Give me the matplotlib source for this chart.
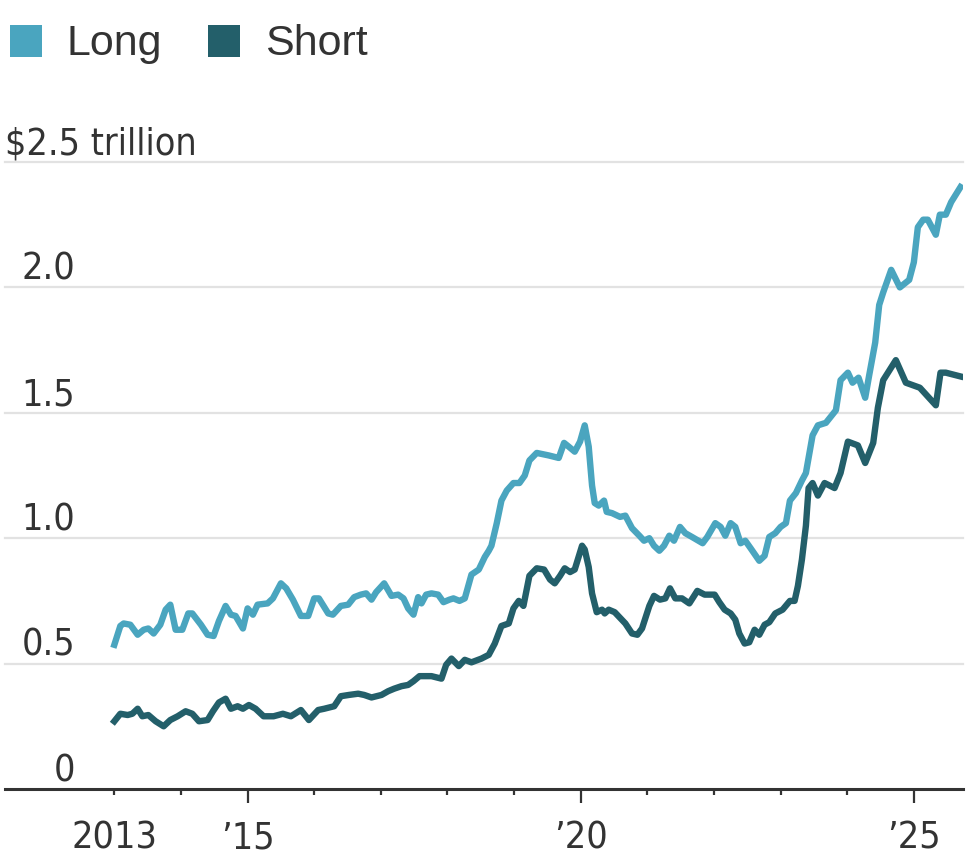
import matplotlib
matplotlib.use("Agg")
import matplotlib.pyplot as plt
from matplotlib.patches import Rectangle

# values (decimal year, $ trillion)
long_dates = [2013.00, 2013.09, 2013.14, 2013.24, 2013.35, 2013.44, 2013.51, 2013.59, 2013.69, 2013.77,
              2013.84, 2013.92, 2014.02, 2014.11, 2014.17, 2014.30, 2014.40, 2014.49, 2014.57, 2014.67,
              2014.75, 2014.82, 2014.93, 2015.00, 2015.08, 2015.15, 2015.30, 2015.38, 2015.50, 2015.58,
              2015.68, 2015.80, 2015.91, 2016.00, 2016.07, 2016.21, 2016.28, 2016.40, 2016.51, 2016.60,
              2016.70, 2016.78, 2016.86, 2016.93, 2017.05, 2017.16, 2017.26, 2017.34, 2017.41, 2017.49,
              2017.56, 2017.61, 2017.68, 2017.76, 2017.86, 2017.94, 2018.03, 2018.09, 2018.18, 2018.26,
              2018.36, 2018.47, 2018.56, 2018.62, 2018.66, 2018.74, 2018.81, 2018.89, 2018.99, 2019.08,
              2019.16, 2019.23, 2019.34, 2019.52, 2019.67, 2019.75, 2019.82, 2019.91, 2019.99, 2020.06,
              2020.12, 2020.17, 2020.21, 2020.27, 2020.35, 2020.39, 2020.47, 2020.59, 2020.67, 2020.77,
              2020.88, 2020.95, 2021.03, 2021.10, 2021.18, 2021.25, 2021.33, 2021.40, 2021.49, 2021.57,
              2021.67, 2021.83, 2021.90, 2022.02, 2022.10, 2022.17, 2022.25, 2022.32, 2022.40, 2022.47,
              2022.55, 2022.68, 2022.76, 2022.83, 2022.92, 2023.00, 2023.08, 2023.14, 2023.23, 2023.32,
              2023.38, 2023.48, 2023.56, 2023.68, 2023.83, 2023.90, 2024.01, 2024.08, 2024.17, 2024.27,
              2024.33, 2024.42, 2024.48, 2024.54, 2024.66, 2024.79, 2024.93, 2025.00, 2025.06, 2025.14,
              2025.21, 2025.33, 2025.39, 2025.48, 2025.56, 2025.70]
long_vals = [0.575, 0.65, 0.66, 0.655, 0.615, 0.635, 0.64, 0.62, 0.655, 0.715,
             0.735, 0.635, 0.635, 0.70, 0.70, 0.655, 0.615, 0.61, 0.67, 0.73,
             0.695, 0.69, 0.64, 0.72, 0.695, 0.735, 0.74, 0.76, 0.82, 0.80,
             0.755, 0.69, 0.69, 0.76, 0.76, 0.70, 0.695, 0.73, 0.735, 0.765,
             0.775, 0.78, 0.755, 0.785, 0.82, 0.77, 0.775, 0.76, 0.72, 0.695,
             0.765, 0.74, 0.775, 0.78, 0.775, 0.745, 0.755, 0.76, 0.75, 0.76,
             0.855, 0.875, 0.925, 0.95, 0.97, 1.06, 1.15, 1.19, 1.22, 1.22,
             1.25, 1.31, 1.34, 1.33, 1.32, 1.38, 1.365, 1.345, 1.385, 1.45,
             1.365, 1.21, 1.14, 1.13, 1.15, 1.105, 1.10, 1.085, 1.09, 1.04,
             1.01, 0.99, 1.00, 0.97, 0.95, 0.97, 1.01, 0.99, 1.045, 1.02,
             1.005, 0.98, 1.005, 1.06, 1.045, 1.01, 1.06, 1.045, 0.98, 0.99,
             0.96, 0.91, 0.93, 1.005, 1.02, 1.045, 1.06, 1.15, 1.18, 1.23,
             1.26, 1.41, 1.45, 1.46, 1.51, 1.63, 1.66, 1.62, 1.64, 1.56,
             1.65, 1.78, 1.93, 1.98, 2.07, 2.00, 2.03, 2.10, 2.24, 2.27,
             2.27, 2.21, 2.29, 2.29, 2.34, 2.40]

short_dates = [2013.00, 2013.09, 2013.20, 2013.27, 2013.35, 2013.42, 2013.51, 2013.62, 2013.74, 2013.84,
               2013.95, 2014.07, 2014.17, 2014.27, 2014.40, 2014.48, 2014.57, 2014.67, 2014.75, 2014.85,
               2014.93, 2015.02, 2015.12, 2015.24, 2015.39, 2015.53, 2015.65, 2015.80, 2015.92, 2016.06,
               2016.15, 2016.30, 2016.40, 2016.52, 2016.66, 2016.75, 2016.86, 2017.01, 2017.11, 2017.20,
               2017.31, 2017.41, 2017.49, 2017.58, 2017.76, 2017.91, 2017.98, 2018.06, 2018.17, 2018.26,
               2018.36, 2018.51, 2018.62, 2018.71, 2018.81, 2018.92, 2018.99, 2019.07, 2019.14, 2019.23,
               2019.34, 2019.45, 2019.54, 2019.61, 2019.69, 2019.76, 2019.84, 2019.91, 2020.02, 2020.06,
               2020.12, 2020.17, 2020.24, 2020.32, 2020.36, 2020.42, 2020.51, 2020.67, 2020.77, 2020.85,
               2020.92, 2021.03, 2021.10, 2021.19, 2021.27, 2021.34, 2021.42, 2021.52, 2021.63, 2021.75,
               2021.86, 2022.01, 2022.08, 2022.16, 2022.25, 2022.32, 2022.38, 2022.46, 2022.53, 2022.61,
               2022.68, 2022.76, 2022.83, 2022.92, 2023.03, 2023.14, 2023.21, 2023.26, 2023.32, 2023.38,
               2023.42, 2023.48, 2023.56, 2023.66, 2023.81, 2023.90, 2024.01, 2024.16, 2024.27, 2024.39,
               2024.46, 2024.54, 2024.73, 2024.88, 2025.09, 2025.33, 2025.40, 2025.48, 2025.70]
short_vals = [0.27, 0.30, 0.295, 0.30, 0.32, 0.29, 0.295, 0.27, 0.25, 0.275,
              0.29, 0.31, 0.30, 0.27, 0.275, 0.31, 0.345, 0.36, 0.32, 0.33,
              0.32, 0.335, 0.32, 0.29, 0.29, 0.30, 0.29, 0.315, 0.275, 0.315,
              0.32, 0.33, 0.37, 0.375, 0.38, 0.375, 0.365, 0.375, 0.39, 0.40,
              0.41, 0.415, 0.43, 0.45, 0.45, 0.44, 0.495, 0.52, 0.49, 0.515,
              0.505, 0.52, 0.535, 0.58, 0.65, 0.66, 0.72, 0.75, 0.73, 0.85,
              0.88, 0.875, 0.835, 0.82, 0.85, 0.88, 0.865, 0.875, 0.97, 0.955,
              0.885, 0.78, 0.705, 0.715, 0.70, 0.715, 0.705, 0.66, 0.62, 0.615,
              0.64, 0.73, 0.77, 0.755, 0.76, 0.80, 0.76, 0.76, 0.74, 0.79,
              0.775, 0.775, 0.745, 0.715, 0.70, 0.675, 0.62, 0.58, 0.585, 0.635,
              0.615, 0.655, 0.665, 0.70, 0.715, 0.75, 0.75, 0.81, 0.915, 1.05,
              1.20, 1.22, 1.17, 1.22, 1.20, 1.26, 1.385, 1.37, 1.30, 1.38,
              1.52, 1.63, 1.71, 1.62, 1.60, 1.53, 1.66, 1.66, 1.645]

y_ticks = [0, 0.5, 1.0, 1.5, 2.0, 2.5]
y_labels = ["0", "0.5", "1.0", "1.5", "2.0", "$2.5 trillion"]
x_label_years = [2013, 2015, 2020, 2025]
x_labels = ["2013", "\u201915", "\u201920", "\u201925"]
series_names = ["Long", "Short"]
long_color = "#4aa5bf"
short_color = "#235f6a"

W, H = 966, 866
plt.rcParams["font.family"] = ["DejaVu Sans"]
plt.rcParams["font.stretch"] = "condensed"

fig = plt.figure(figsize=(W / 100, H / 100), dpi=100)
ax = fig.add_axes([5 / W, (H - 789) / H, 958 / W, (789 - 162) / H])

ax.plot(long_dates, long_vals, color=long_color, lw=4.6, solid_joinstyle="round", zorder=3)
ax.plot(short_dates, short_vals, color=short_color, lw=4.6, solid_joinstyle="round", zorder=3)

ax.set_xlim(2013 - 109 / 66.42, 2025 + 49 / 66.42)
ax.set_ylim(0, 2.5)

for s in ["top", "right", "left"]:
    ax.spines[s].set_visible(False)
ax.spines["bottom"].set_color("#333333")
ax.spines["bottom"].set_linewidth(2.2)
ax.spines["bottom"].set_zorder(4)

for v in y_ticks[1:]:
    ax.axhline(v, color="#e2e2e2", lw=1.6, zorder=1, clip_on=False)

ax.set_yticks([])
ax.set_xticks([2015, 2020, 2025])
ax.set_xticks(range(2013, 2026), minor=True)
ax.tick_params(axis="x", which="major", length=10, width=1.6, color="#333333", labelbottom=False)
ax.tick_params(axis="x", which="minor", length=4.5, width=1.6, color="#333333", labelbottom=False)

text_color = "#333333"
fs = 27
for v, lab in zip(y_ticks, y_labels):
    if v == 2.5:
        ax.annotate(lab, xy=(0, v), xycoords=("axes fraction", "data"), xytext=(0, 5.5),
                    textcoords="offset points", ha="left", va="baseline",
                    fontsize=fs, color=text_color)
    else:
        ax.annotate(lab, xy=(70 / 958, v), xycoords=("axes fraction", "data"), xytext=(0, 5.5),
                    textcoords="offset points", ha="right", va="baseline",
                    fontsize=fs, color=text_color)

for yr, lab in zip(x_label_years, x_labels):
    ax.annotate(lab, xy=(yr, 0), xycoords="data", xytext=(0, -42.5),
                textcoords="offset points", ha="center", va="baseline",
                fontsize=fs, color=text_color, annotation_clip=False)

# legend at the top
def fx(px):
    return px / W

def fy(py):
    return (H - py) / H

for x0, name, col in [(10, series_names[0], long_color), (208, series_names[1], short_color)]:
    fig.patches.append(Rectangle((fx(x0), fy(57)), 32 / W, 32 / H, transform=fig.transFigure,
                                 facecolor=col, edgecolor="none"))
    fig.text(fx(x0 + 57), fy(55), name, ha="left", va="baseline", fontsize=31,
             color=text_color, family=["Liberation Sans", "DejaVu Sans"], fontstretch="normal")

fig.savefig("out.png", dpi=100, facecolor="white")
